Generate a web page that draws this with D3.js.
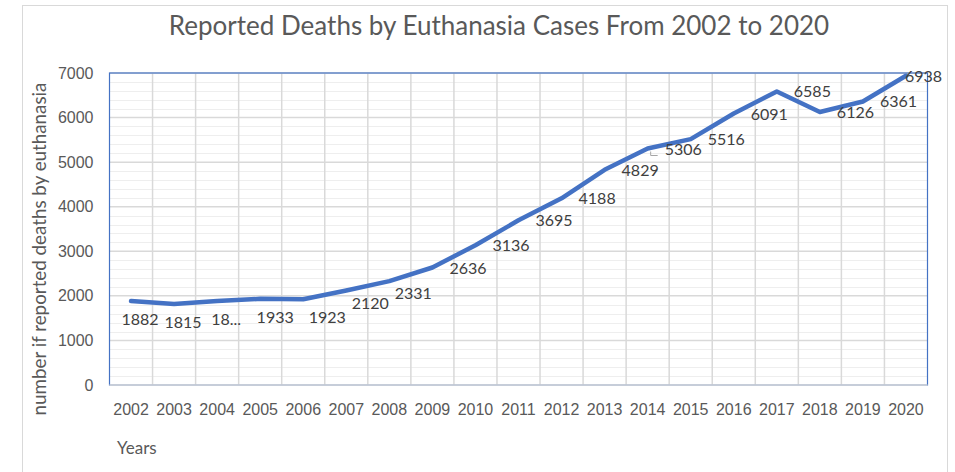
<!DOCTYPE html>
<html>
<head>
<meta charset="utf-8">
<script src="https://cdn.jsdelivr.net/npm/d3@7"></script>
<style>
  html, body { margin: 0; padding: 0; background: #fff; }
  svg { display: block; font-family: Lato, "Open Sans", sans-serif; }
</style>
</head>
<body>
<svg id="chart" width="955" height="472"></svg>
<script>
// ── Data ──────────────────────────────────────────────
const years  = [2002, 2003, 2004, 2005, 2006, 2007, 2008, 2009, 2010, 2011,
                2012, 2013, 2014, 2015, 2016, 2017, 2018, 2019, 2020];
const deaths = [1882, 1815, 1886, 1933, 1923, 2120, 2331, 2636, 3136, 3695,
                4188, 4829, 5306, 5516, 6091, 6585, 6126, 6361, 6938];
const yTicks = [0, 1000, 2000, 3000, 4000, 5000, 6000, 7000];

const TITLE  = 'Reported Deaths by Euthanasia Cases From 2002 to 2020';
const Y_NAME = 'number if reported deaths by euthanasia';
const X_NAME = 'Years';

// ── Layout ────────────────────────────────────────────
const plot = { left: 109.5, right: 927.5, top: 73, bottom: 385 };
const BLUE = '#4472c4';
const GRID = '#d9d9d9';
const TEXT = '#595959';

const svg = d3.select('#chart');
const data = years.map((yr, i) => ({ year: yr, value: deaths[i] }));

const x = d3.scaleBand().domain(years).range([plot.left, plot.right]);
const y = d3.scaleLinear().domain([0, 7000]).range([plot.bottom, plot.top]);
const cx = d => x(d.year) + x.bandwidth() / 2;

// outer chart frame
svg.append('rect')
  .attr('x', 22.5).attr('y', 5.5).attr('width', 925).attr('height', 490)
  .attr('fill', '#fff').attr('stroke', '#d9d9d9').attr('stroke-width', 1);

// title
svg.append('text')
  .attr('x', 499).attr('y', 35)
  .attr('text-anchor', 'middle')
  .attr('font-size', 26).attr('fill', TEXT)
  .text(TITLE);

// minor gridlines
svg.append('g').selectAll('line')
  .data(d3.range(200, 7000, 200).filter(v => v % 1000 !== 0))
  .join('line')
  .attr('x1', plot.left).attr('x2', plot.right)
  .attr('y1', d => Math.round(y(d)) + 0.5).attr('y2', d => Math.round(y(d)) + 0.5)
  .attr('stroke', '#eeeeee').attr('stroke-width', 1);

// major gridlines
svg.append('g').selectAll('line')
  .data(yTicks.slice(1))
  .join('line')
  .attr('x1', plot.left).attr('x2', plot.right)
  .attr('y1', d => y(d)).attr('y2', d => y(d))
  .attr('stroke', GRID).attr('stroke-width', 1.5);

// vertical gridlines at category boundaries
svg.append('g').selectAll('line')
  .data(years.slice(1))
  .join('line')
  .attr('x1', d => x(d)).attr('x2', d => x(d))
  .attr('y1', plot.top).attr('y2', plot.bottom)
  .attr('stroke', GRID).attr('stroke-width', 1.5);

// plot area border
svg.append('rect')
  .attr('x', plot.left).attr('y', plot.top)
  .attr('width', plot.right - plot.left).attr('height', plot.bottom - plot.top)
  .attr('fill', 'none').attr('stroke', BLUE).attr('stroke-width', 1.2);

// category axis line
svg.append('line')
  .attr('x1', plot.left).attr('x2', plot.right)
  .attr('y1', plot.bottom).attr('y2', plot.bottom)
  .attr('stroke', GRID).attr('stroke-width', 1.5);

// y axis labels
const yAxis = d3.axisLeft(y).tickValues(yTicks).tickFormat(d3.format('d'))
  .tickSize(0).tickPadding(16);
const gy = svg.append('g').attr('transform', `translate(${plot.left},0)`).call(yAxis);
gy.select('.domain').remove();
gy.selectAll('text').attr('font-size', 16).attr('fill', TEXT).attr('font-family', null);

// x axis labels
const xAxis = d3.axisBottom(x).tickSize(0).tickPadding(19);
const gx = svg.append('g').attr('transform', `translate(0,${plot.bottom})`).call(xAxis);
gx.select('.domain').remove();
gx.selectAll('text').attr('font-size', 16).attr('fill', TEXT).attr('font-family', null);

// axis titles
svg.append('text')
  .attr('transform', `translate(46,249) rotate(-90)`)
  .attr('text-anchor', 'middle')
  .attr('font-size', 18.8).attr('fill', TEXT)
  .text(Y_NAME);

svg.append('text')
  .attr('x', 117).attr('y', 454)
  .attr('font-size', 17).attr('fill', TEXT)
  .text(X_NAME);

// the series line
const line = d3.line().x(cx).y(d => y(d.value));
svg.append('path').datum(data)
  .attr('d', line)
  .attr('fill', 'none')
  .attr('stroke', BLUE)
  .attr('stroke-width', 4.5)
  .attr('stroke-linejoin', 'round')
  .attr('stroke-linecap', 'round');

// data labels: below the point up to 2008, to the right after that
const labelText = d => d.year === 2004 ? String(d.value).slice(0, 2) + '...' : d.value;
const below = d => d.year < 2009;
const last = years[years.length - 1];

function labelX(d) {
  if (d.year === last) return cx(d) - 1;
  if (!below(d)) return cx(d) + 17;
  if (d.year < 2005) return cx(d) + 9;
  if (d.year === 2005) return cx(d) + 15;
  return cx(d) + 24;
}

svg.append('g').selectAll('text')
  .data(data)
  .join('text')
  .attr('x', labelX)
  .attr('y', d => y(d.value) + (below(d) ? (d.year < 2007 ? 24 : 18) : 6))
  .attr('text-anchor', d => below(d) ? 'middle' : 'start')
  .attr('font-size', 16).attr('fill', '#404040')
  .text(labelText);

// little leader line for the 2014 label
const d14 = data.find(d => d.year === 2014);
svg.append('path')
  .attr('d', `M${cx(d14) + 3},${y(d14.value) + 3}v4h7`)
  .attr('fill', 'none').attr('stroke', '#a6a6a6').attr('stroke-width', 1);
</script>
</body>
</html>
